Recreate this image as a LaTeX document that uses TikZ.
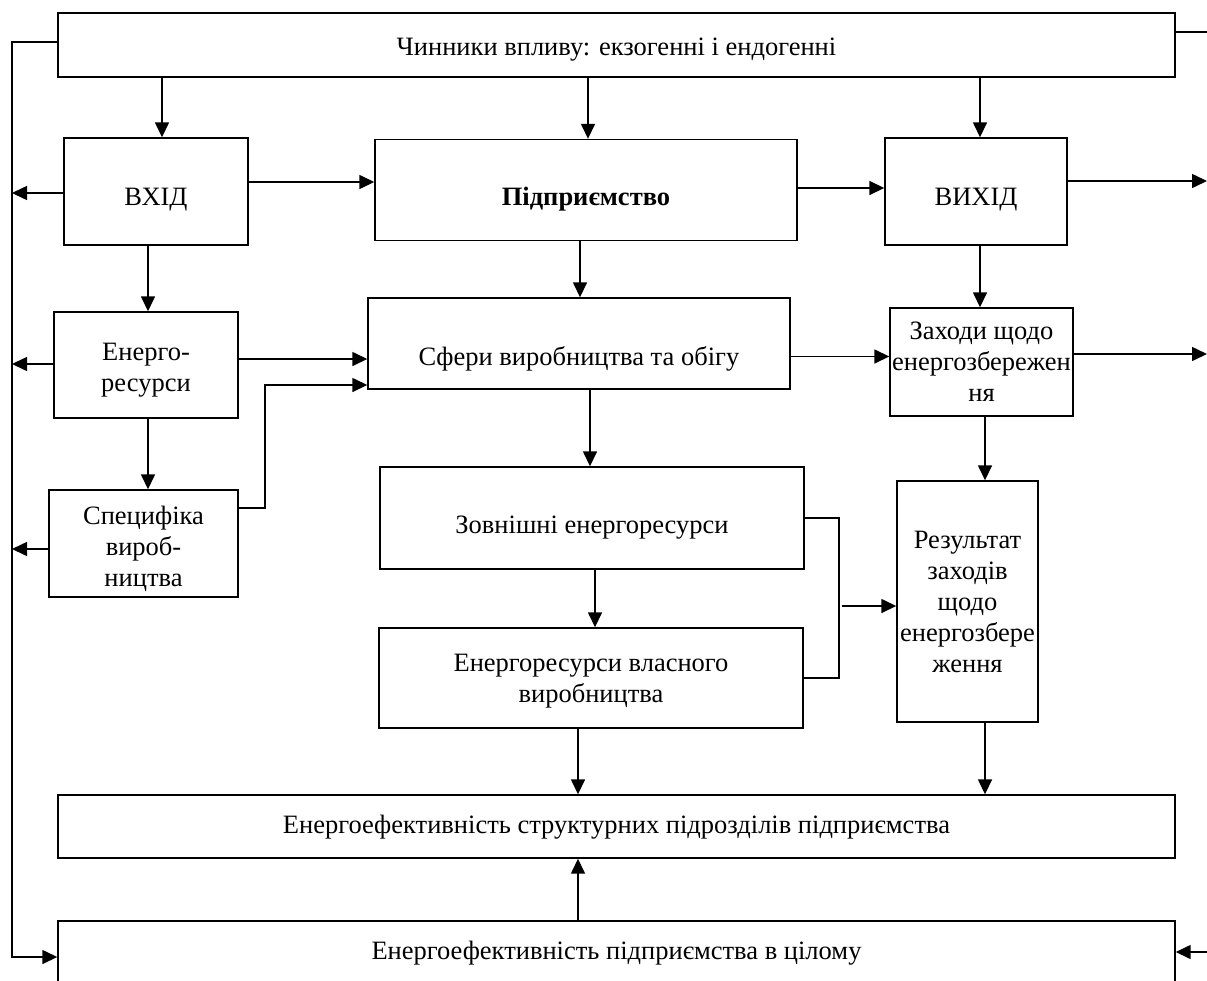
\documentclass[tikz,border=0pt]{standalone}
\usepackage{fontspec}
\setmainfont{Liberation Serif}
\usetikzlibrary{arrows.meta}
\newcommand{\lowr}[2]{\raisebox{-#1pt}[0pt][0pt]{#2}}
\begin{document}
\begin{tikzpicture}[x=1pt,y=-1pt,
  box/.style={draw,line width=1.4pt,rectangle,inner sep=0pt,align=center,
    font=\fontsize{26.5}{31}\selectfont},
  arr/.style={line width=1.5pt,-{Triangle[length=15pt,width=14pt]}},
  ln/.style={line width=1.5pt}]
\useasboundingbox (0,0) rectangle (1207,980);
\clip (0,0) rectangle (1207,980);
% nodes
\node[box,minimum width=1117pt,minimum height=64pt] (top) at (616.5,45) {\lowr{10}{Чинники впливу: екзогенні і ендогенні}};
\node[box,minimum width=184pt,minimum height=107pt] (vhid) at (156,191.5) {\lowr{14}{ВХІД}};
\node[box,minimum width=422pt,minimum height=101pt] (pidp) at (586,190) {\lowr{15}{\bfseries Підприємство}};
\node[box,minimum width=182pt,minimum height=107pt] (vyhid) at (976,191.5) {\lowr{14}{ВИХІД}};
\node[box,minimum width=184pt,minimum height=106pt] (energo) at (146,365) {\rule{0pt}{27pt}Енерго-\\ресурси};
\node[box,minimum width=422pt,minimum height=91pt] (sfery) at (579,343.5) {\lowr{22}{Сфери виробництва та обігу}};
\node[box,minimum width=183pt,minimum height=108pt] (zahody) at (981.5,362) {Заходи щодо\\енергозбережен\\ня};
\node[box,minimum width=189pt,minimum height=107pt] (spec) at (143.5,543.5) {\rule{0pt}{30pt}Специфіка\\вироб-\\ництва};
\node[box,minimum width=424pt,minimum height=102pt] (zovn) at (592,518) {\lowr{15}{Зовнішні енергоресурси}};
\node[box,minimum width=424pt,minimum height=100pt] (vlasn) at (591,678) {\rule{0pt}{24pt}Енергоресурси власного\\виробництва};
\node[box,minimum width=141pt,minimum height=241pt] (rezult) at (967.5,601.5) {Результат\\заходів\\щодо\\енергозбере\\ження};
\node[box,minimum width=1117pt,minimum height=63pt] (bot1) at (616.5,826.5) {\lowr{7}{Енергоефективність структурних підрозділів підприємства}};
\node[box,minimum width=1117pt,minimum height=64pt] (bot2) at (616.5,953) {Енергоефективність підприємства в цілому};
% helper coordinates
\coordinate (L) at (12,0);
\coordinate (R) at (1207,0);
\coordinate (bx) at (839,0);
\coordinate (sx) at (265,0);
% top to row 1
\draw[arr] ([xshift=6pt]vhid.north |- top.south) -- ([xshift=6pt]vhid.north);
\draw[arr] ([xshift=2pt]pidp.north |- top.south) -- ([xshift=2pt]pidp.north);
\draw[arr] ([xshift=4pt]vyhid.north |- top.south) -- ([xshift=4pt]vyhid.north);
% row 1 horizontal
\draw[arr] ([yshift=9.5pt]vhid.east) -- ([yshift=9.5pt]vhid.east -| pidp.west);
\draw[arr] ([yshift=2pt]pidp.east) -- ([yshift=2pt]pidp.east -| vyhid.west);
\draw[arr] ([yshift=10.5pt]vyhid.east) -- ([yshift=10.5pt]vyhid.east -| R);
\draw[arr] ([yshift=-1.5pt]vhid.west) -- ([yshift=-1.5pt]vhid.west -| L);
% row 1 down
\draw[arr] ([xshift=-8pt]vhid.south) -- ([xshift=-8pt]vhid.south |- energo.north);
\draw[arr] ([xshift=-6pt]pidp.south) -- ([xshift=-6pt]pidp.south |- sfery.north);
\draw[arr] ([xshift=4pt]vyhid.south) -- ([xshift=4pt]vyhid.south |- zahody.north);
% row 2
\draw[arr] ([yshift=1pt]energo.west) -- ([yshift=1pt]energo.west -| L);
\draw[arr] ([yshift=6pt]energo.east) -- ([yshift=6pt]energo.east -| sfery.west);
\draw[arr] ([yshift=-13pt]sfery.east) -- ([yshift=-13pt]sfery.east -| zahody.west);
\draw[arr] ([yshift=8pt]zahody.east) -- ([yshift=8pt]zahody.east -| R);
\draw[arr] ([xshift=2pt]energo.south) -- ([xshift=2pt]energo.south |- spec.north);
\draw[arr] ([xshift=11pt]sfery.south) -- ([xshift=11pt]sfery.south |- zovn.north);
\draw[arr] ([xshift=3.5pt]zahody.south) -- ([xshift=3.5pt]zahody.south |- rezult.north);
% specifika
\draw[arr] ([yshift=35.5pt]spec.east) -- ([yshift=35.5pt]spec.east -| sx) |- ([yshift=-41.5pt]sfery.west);
\draw[arr] ([yshift=-5.5pt]spec.west) -- ([yshift=-5.5pt]spec.west -| L);
% zovn / vlasn
\draw[arr] ([xshift=3pt]zovn.south) -- ([xshift=3pt]zovn.south |- vlasn.north);
\draw[ln] (zovn.east) -- (zovn.east -| bx) |- (vlasn.east);
\draw[arr] ([xshift=3pt,yshift=-4.5pt]bx |- rezult.west) -- ([yshift=-4.5pt]rezult.west);
% to bottom
\draw[arr] ([xshift=-13pt]vlasn.south) -- ([xshift=-13pt]vlasn.south |- bot1.north);
\draw[arr] ([xshift=17.5pt]rezult.south) -- ([xshift=17.5pt]rezult.south |- bot1.north);
\draw[arr] ([xshift=-38.5pt]bot2.north) -- ([xshift=-38.5pt]bot1.south);
% feedback lines
\draw[arr] ([yshift=3pt]top.west) -- ([yshift=3pt]top.west -| L) |- ([yshift=-4pt]bot2.west);
\draw[ln] ([yshift=13pt]top.east) -- ([yshift=13pt]top.east -| R);
\draw[arr] ([yshift=1pt]bot2.east -| R) -- ([yshift=1pt]bot2.east);
\end{tikzpicture}
\end{document}
